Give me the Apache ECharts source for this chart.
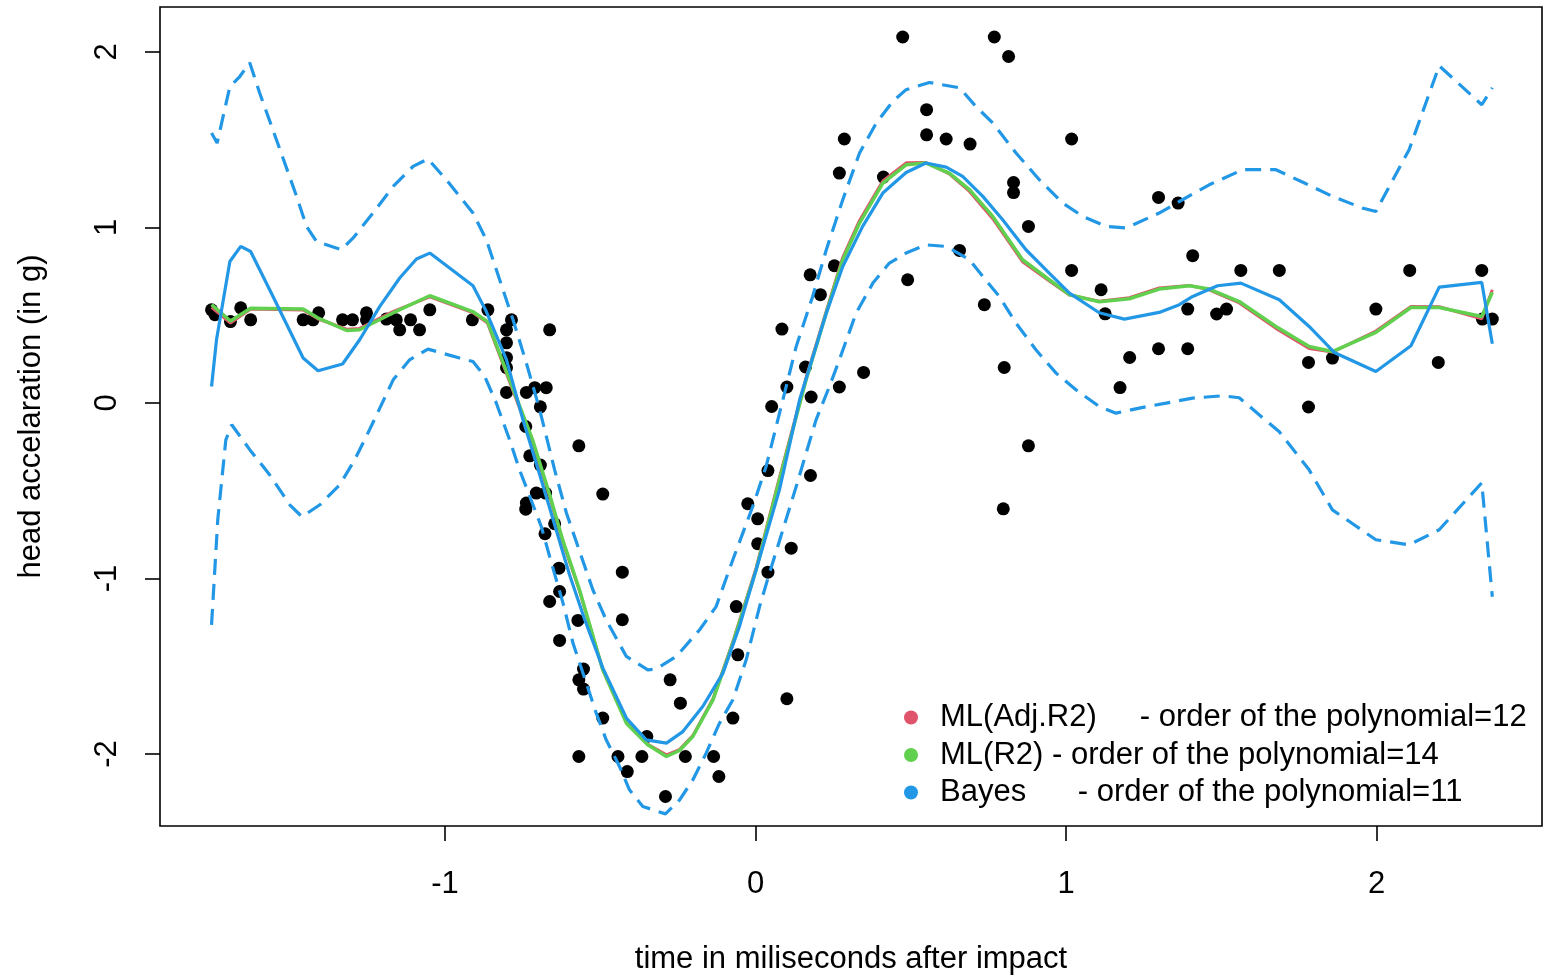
<!DOCTYPE html>
<html>
<head>
<meta charset="utf-8">
<script src="https://cdn.jsdelivr.net/npm/echarts@6/dist/echarts.min.js"></script>
<style>
html,body{margin:0;padding:0;background:#fff;}
#chart{width:1544px;height:976px;}
</style>
</head>
<body>
<div id="chart"></div>
<script>
// ---- data ----
const xTicks = [-1, 0, 1, 2];
const yTicks = [-2, -1, 0, 1, 2];

const pointX = [-1.752,-1.741,-1.691,-1.658,-1.626,-1.457,-1.425,-1.407,-1.330,-1.298,-1.253,-1.253,-1.189,-1.157,-1.146,-1.111,-1.082,-1.049,-0.912,-0.862,-0.802,-0.786,-0.802,-0.802,-0.802,-0.802,-0.738,-0.711,-0.674,-0.693,-0.663,
 -0.740,-0.569,-0.727,-0.693,-0.706,-0.676,-0.738,-0.740,-0.492,-0.647,-0.678,-0.633,-0.429,-0.631,-0.663,-0.572,-0.429,-0.631,
 -0.554,-0.569,-0.554,-0.275,-0.242,-0.492,-0.350,-0.569,-0.443,-0.366,-0.226,-0.135,-0.413,-0.118,-0.290,
 -0.073,-0.062,-0.057,-0.025,0.007,0.007,0.040,0.115,0.101,0.040,0.177,0.052,0.101,0.179,0.270,0.161,0.348,0.085,0.176,0.209,0.254,0.270,0.286,0.412,0.490,
 0.474,0.551,0.551,0.614,0.691,0.657,0.769,0.815,1.018,0.831,0.831,0.879,0.737,0.801,0.879,0.798,
 1.018,1.113,1.126,1.205,1.174,1.298,1.361,1.408,1.563,1.687,2.107,2.339,1.392,1.485,1.517,1.998,2.341,2.373,1.298,1.392,1.781,1.858,2.199,1.781];
const pointY = [0.531,0.503,0.464,0.542,0.474,0.474,0.474,0.514,0.474,0.474,0.514,0.474,0.478,0.474,0.417,0.474,0.417,0.531,0.474,0.531,0.417,0.474,0.343,0.258,0.201,0.060,0.060,0.087,0.087,-0.022,0.417,
 -0.134,-0.244,-0.301,-0.354,-0.513,-0.513,-0.570,-0.605,-0.519,-0.688,-0.745,-0.941,-0.964,-1.074,-1.131,-1.239,-1.235,-1.353,
 -1.516,-1.577,-1.630,-1.577,-1.710,-1.795,-1.900,-2.014,-2.014,-2.014,-2.014,-2.014,-2.100,-2.128,-2.242,
 -1.795,-1.160,-1.435,-0.574,-0.660,-0.802,-0.964,-0.827,-1.685,-0.385,-0.413,-0.020,0.091,0.034,0.091,0.205,0.174,0.421,0.730,0.617,0.782,1.310,1.504,1.287,0.702,
 2.085,1.671,1.528,1.504,1.475,0.869,2.085,1.974,1.504,1.256,1.199,1.006,0.560,0.202,-0.244,-0.603,
 0.755,0.645,0.508,0.259,0.088,1.171,1.139,0.839,0.755,0.755,0.755,0.755,0.535,0.507,0.535,0.535,0.478,0.478,0.309,0.309,0.231,0.256,0.231,-0.023];

const fitX = [-1.752,-1.691,-1.626,-1.457,-1.410,-1.317,-1.275,-1.168,-1.049,-0.911,-0.863,-0.792,-0.718,-0.663,-0.621,-0.567,-0.492,-0.416,-0.347,-0.287,-0.245,-0.202,-0.137,-0.073,0.002,0.077,0.163,0.228,0.281,0.335,0.410,0.485,0.549,0.624,0.689,0.764,0.860,0.946,1.011,1.107,1.204,1.300,1.397,1.461,1.558,1.676,1.783,1.858,1.998,2.111,2.202,2.339,2.373];
const greenY = [0.560,0.467,0.540,0.535,0.485,0.413,0.417,0.513,0.611,0.521,0.463,0.132,-0.210,-0.523,-0.780,-1.064,-1.520,-1.824,-1.947,-2.014,-1.980,-1.900,-1.691,-1.368,-0.950,-0.438,0.132,0.514,0.816,1.025,1.253,1.357,1.367,1.310,1.215,1.063,0.816,0.702,0.617,0.577,0.594,0.649,0.668,0.649,0.578,0.436,0.322,0.293,0.402,0.544,0.544,0.493,0.630];
const redY = [0.545,0.455,0.535,0.530,0.480,0.420,0.425,0.520,0.605,0.515,0.455,0.120,-0.225,-0.535,-0.790,-1.070,-1.520,-1.820,-1.945,-2.005,-1.975,-1.895,-1.685,-1.360,-0.940,-0.425,0.145,0.525,0.830,1.040,1.265,1.368,1.370,1.305,1.205,1.050,0.805,0.695,0.615,0.580,0.600,0.655,0.670,0.645,0.570,0.425,0.310,0.290,0.410,0.550,0.548,0.480,0.645];

const bayesX = [-1.752,-1.736,-1.693,-1.658,-1.626,-1.554,-1.457,-1.409,-1.330,-1.275,-1.210,-1.146,-1.092,-1.049,-0.910,-0.867,-0.802,-0.749,-0.695,-0.647,-0.599,-0.550,-0.492,-0.416,-0.352,-0.287,-0.234,-0.170,-0.105,-0.052,0.002,0.077,0.142,0.228,0.281,0.345,0.410,0.485,0.549,0.614,0.667,0.732,0.796,0.871,0.946,1.011,1.107,1.188,1.300,1.365,1.408,1.488,1.563,1.687,1.783,1.864,1.998,2.111,2.202,2.339,2.373];
const bayesY = [0.094,0.360,0.806,0.892,0.863,0.607,0.256,0.184,0.222,0.360,0.550,0.712,0.820,0.854,0.668,0.521,0.246,-0.096,-0.409,-0.694,-0.979,-1.235,-1.509,-1.795,-1.919,-1.938,-1.872,-1.729,-1.539,-1.274,-0.950,-0.495,0.018,0.512,0.778,1.006,1.196,1.313,1.367,1.344,1.291,1.177,1.044,0.873,0.740,0.626,0.514,0.478,0.516,0.560,0.607,0.668,0.683,0.588,0.436,0.288,0.179,0.326,0.660,0.687,0.337];

const upperX = [-1.752,-1.734,-1.693,-1.661,-1.629,-1.597,-1.543,-1.478,-1.446,-1.414,-1.334,-1.296,-1.232,-1.167,-1.103,-1.055,-0.996,-0.910,-0.867,-0.824,-0.781,-0.738,-0.695,-0.647,-0.609,-0.572,-0.524,-0.481,-0.416,-0.347,-0.320,-0.255,-0.180,-0.127,-0.073,-0.009,0.034,0.088,0.131,0.184,0.228,0.281,0.335,0.389,0.442,0.485,0.560,0.657,0.710,0.764,0.839,0.914,0.989,1.054,1.129,1.193,1.300,1.365,1.461,1.569,1.676,1.768,1.858,1.954,1.998,2.105,2.202,2.339,2.373];
const upperY = [1.538,1.481,1.803,1.860,1.939,1.766,1.500,1.177,1.006,0.920,0.873,0.940,1.082,1.234,1.348,1.390,1.272,1.082,0.930,0.702,0.474,0.227,-0.039,-0.381,-0.627,-0.818,-1.064,-1.236,-1.444,-1.520,-1.516,-1.444,-1.292,-1.160,-0.893,-0.590,-0.362,0.018,0.322,0.607,0.873,1.158,1.424,1.595,1.718,1.785,1.826,1.796,1.689,1.595,1.424,1.272,1.139,1.063,1.006,0.997,1.082,1.148,1.243,1.329,1.329,1.253,1.177,1.111,1.091,1.443,1.921,1.699,1.796];

const lowerX = [-1.752,-1.732,-1.706,-1.687,-1.629,-1.565,-1.500,-1.461,-1.403,-1.339,-1.291,-1.243,-1.167,-1.114,-1.055,-0.953,-0.910,-0.872,-0.835,-0.792,-0.760,-0.727,-0.690,-0.663,-0.620,-0.588,-0.545,-0.513,-0.481,-0.438,-0.406,-0.363,-0.290,-0.245,-0.202,-0.159,-0.116,-0.073,-0.030,0.013,0.045,0.088,0.131,0.163,0.195,0.238,0.270,0.324,0.378,0.431,0.485,0.549,0.614,0.689,0.732,0.785,0.839,0.903,0.968,1.032,1.107,1.161,1.236,1.322,1.408,1.504,1.558,1.622,1.687,1.783,1.858,1.998,2.105,2.202,2.339,2.373];
const lowerY = [-1.264,-0.666,-0.210,-0.124,-0.266,-0.409,-0.580,-0.648,-0.580,-0.466,-0.324,-0.152,0.132,0.246,0.307,0.256,0.236,0.151,0.000,-0.210,-0.381,-0.533,-0.704,-0.875,-1.140,-1.368,-1.596,-1.767,-1.919,-2.071,-2.204,-2.299,-2.341,-2.262,-2.148,-1.995,-1.824,-1.691,-1.463,-1.160,-0.969,-0.723,-0.476,-0.285,-0.096,0.094,0.246,0.512,0.683,0.797,0.854,0.901,0.892,0.816,0.721,0.607,0.455,0.303,0.170,0.075,-0.020,-0.058,-0.029,-0.001,0.028,0.041,0.030,-0.067,-0.164,-0.381,-0.609,-0.779,-0.808,-0.722,-0.455,-1.104];

const nameRed = 'ML(Adj.R2)     - order of the polynomial=12';
const nameGreen = 'ML(R2) - order of the polynomial=14';
const nameBlue = 'Bayes      - order of the polynomial=11';

// ---- chart ----
const zip = (xs, ys) => xs.map((x, i) => [x, ys[i]]);
const FONT = '"Liberation Sans", Arial, Helvetica, sans-serif';
const RED = '#DF536B', GREEN = '#61D04F', BLUE = '#2297E6';

const chart = echarts.init(document.getElementById('chart'), null, {renderer: 'canvas'});
chart.setOption({
  animation: false,
  backgroundColor: '#ffffff',
  grid: {left: 160, top: 7, right: 2, bottom: 150, containLabel: false, outerBoundsMode: 'none',
         show: true, borderColor: '#000', borderWidth: 1.6, backgroundColor: 'transparent'},
  xAxis: {
    type: 'value', min: -1.918, max: 2.533,
    axisLine: {show: false, onZero: false},
    splitLine: {show: false},
    axisTick: {show: true, customValues: xTicks, length: 15, lineStyle: {color: '#000', width: 1.6}},
    axisLabel: {customValues: xTicks, fontSize: 31, fontFamily: FONT, color: '#000', margin: 43, formatter: v => String(v)},
    name: 'time in miliseconds after impact', nameLocation: 'middle', nameGap: 118,
    nameTextStyle: {fontSize: 31, fontFamily: FONT, color: '#000'}
  },
  yAxis: {
    type: 'value', min: -2.41, max: 2.256,
    axisLine: {show: false, onZero: false},
    splitLine: {show: false},
    axisTick: {show: true, customValues: yTicks, length: 15, lineStyle: {color: '#000', width: 1.6}},
    axisLabel: {customValues: yTicks, rotate: 90, fontSize: 31, fontFamily: FONT, color: '#000', margin: 37, formatter: v => String(v)},
    name: 'head accelaration (in g)', nameLocation: 'middle', nameRotate: 90, nameGap: 113,
    nameTextStyle: {fontSize: 31, fontFamily: FONT, color: '#000'}
  },
  legend: {
    data: [nameRed, nameGreen, nameBlue],
    orient: 'vertical', left: 899, top: 697,
    icon: 'circle', itemWidth: 48, itemHeight: 14, itemGap: 6.5,
    selectedMode: false,
    textStyle: {fontSize: 31, fontFamily: FONT, color: '#000', lineHeight: 31}
  },
  series: [
    {type: 'scatter', name: 'data', data: zip(pointX, pointY), symbol: 'circle', symbolSize: 13,
     itemStyle: {color: '#000', opacity: 1}, z: 1, silent: true},
    {type: 'line', name: nameRed, data: zip(fitX, redY), showSymbol: false, symbol: 'none',
     lineStyle: {color: RED, width: 3}, itemStyle: {color: RED}, z: 2},
    {type: 'line', name: nameGreen, data: zip(fitX, greenY), showSymbol: false, symbol: 'none',
     lineStyle: {color: GREEN, width: 3.5}, itemStyle: {color: GREEN}, z: 3},
    {type: 'line', name: nameBlue, data: zip(bayesX, bayesY), showSymbol: false, symbol: 'none',
     lineStyle: {color: BLUE, width: 3.2}, itemStyle: {color: BLUE}, z: 4},
    {type: 'line', name: 'upper', data: zip(upperX, upperY), showSymbol: false, symbol: 'none',
     lineStyle: {color: BLUE, width: 3.2, type: [16, 9]}, z: 5},
    {type: 'line', name: 'lower', data: zip(lowerX, lowerY), showSymbol: false, symbol: 'none',
     lineStyle: {color: BLUE, width: 3.2, type: [16, 9]}, z: 5}
  ]
});
</script>
</body>
</html>
